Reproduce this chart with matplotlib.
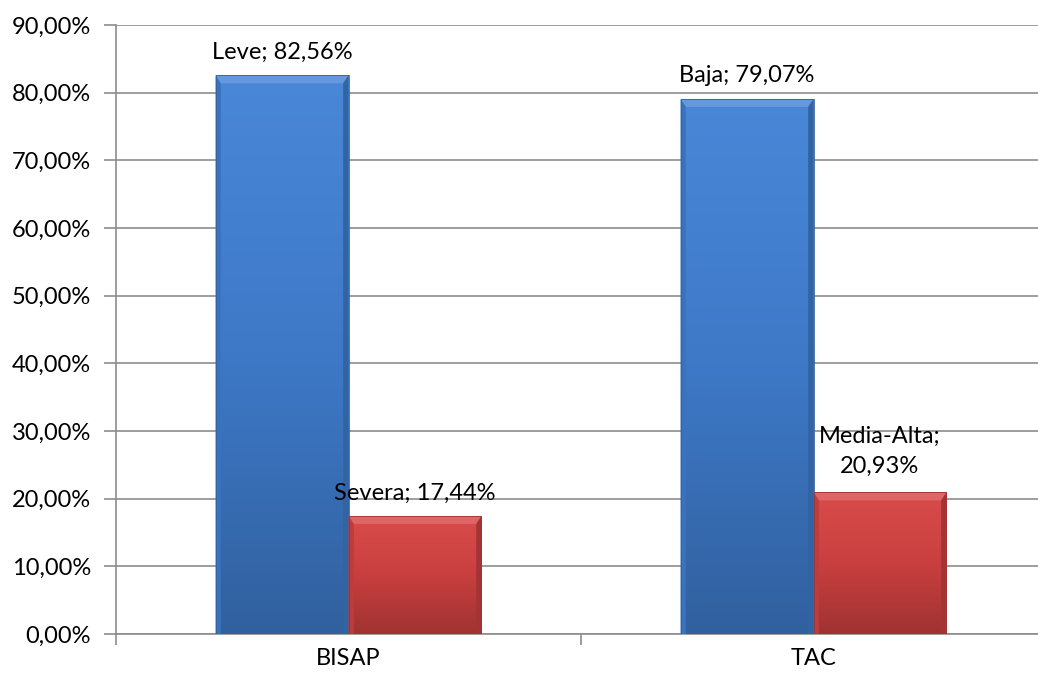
import numpy as np
import matplotlib
matplotlib.use("Agg")
import matplotlib.pyplot as plt
from matplotlib.colors import LinearSegmentedColormap, to_rgb
from matplotlib.patches import Rectangle, Polygon

plt.rcParams['font.family'] = ['Lato', 'DejaVu Sans']

categories = ["BISAP", "TAC"]
low_values = [82.56, 79.07]
high_values = [17.44, 20.93]
low_names = ["Leve", "Baja"]
high_names = ["Severa", "Media-Alta"]
y_ticks = [0, 10, 20, 30, 40, 50, 60, 70, 80, 90]

fig = plt.figure(figsize=(10.38, 6.8), dpi=100)
ax = fig.add_axes([116 / 1038, 46 / 680, 930 / 1038, 609 / 680])
ax.set_xlim(-0.5, 1.5)
ax.set_ylim(0, 90)

bar_w = 0.286
x = np.arange(len(categories))


def shade(c, f):
    r, g, b = to_rgb(c)
    if f >= 1:
        return tuple(ch + (1 - ch) * (f - 1) for ch in (r, g, b))
    return tuple(ch * f for ch in (r, g, b))


def bevel_bar(ax, xc, h, base, z=3):
    x0, x1 = xc - bar_w / 2, xc + bar_w / 2
    # vertical gradient body
    cmap = LinearSegmentedColormap.from_list(
        "g", [shade(base, 0.74), shade(base, 0.93), shade(base, 1.04)])
    grad = np.linspace(0, 1, 256).reshape(-1, 1)
    im = ax.imshow(grad, extent=(x0, x1, 0, h), origin="lower", aspect="auto",
                   cmap=cmap, zorder=z)
    clip = Rectangle((x0, 0), bar_w, h, transform=ax.transData)
    im.set_clip_path(clip)
    # bevel edges, a few pixels wide
    dx = bar_w * 0.04
    dy = 90 * 8 / 609
    top = Polygon([(x0, h), (x1, h), (x1 - dx, h - dy), (x0 + dx, h - dy)],
                  closed=True, fc=shade(base, 1.18), ec="none", zorder=z + 1)
    left = Polygon([(x0, 0), (x0, h), (x0 + dx, h - dy), (x0 + dx, 0)],
                   closed=True, fc=shade(base, 0.88), ec="none", zorder=z + 1)
    right = Polygon([(x1, 0), (x1, h), (x1 - dx, h - dy), (x1 - dx, 0)],
                    closed=True, fc=shade(base, 0.76), ec="none", zorder=z + 1)
    for p in (top, left, right):
        ax.add_patch(p)
    ax.add_patch(Rectangle((x0, 0), bar_w, h, fc="none",
                           ec=shade(base, 0.75), lw=0.6, zorder=z + 2))


blue = "#4282d6"
red = "#d84444"
for i in range(len(categories)):
    bevel_bar(ax, x[i] - bar_w / 2, low_values[i], blue)
    bevel_bar(ax, x[i] + bar_w / 2, high_values[i], red)


def fmt(v):
    return f"{v:.2f}".replace(".", ",") + "%"


fs = 17
off = (0, 9)
for i in range(len(categories)):
    ax.annotate(f"{low_names[i]}; {fmt(low_values[i])}",
                (x[i] - bar_w / 2, low_values[i]), xytext=off,
                textcoords="offset points", ha="center", va="bottom",
                fontsize=fs, color="black", zorder=10)
ax.annotate(f"{high_names[0]}; {fmt(high_values[0])}",
            (x[0] + bar_w / 2, high_values[0]), xytext=off,
            textcoords="offset points", ha="center", va="bottom",
            fontsize=fs, color="black", zorder=10)
ax.annotate(f"{high_names[1]};\n{fmt(high_values[1])}",
            (x[1] + bar_w / 2, high_values[1]), xytext=(0, 11),
            textcoords="offset points", ha="center", va="bottom",
            fontsize=fs, color="black", zorder=10, linespacing=1.55)

ax.set_yticks(y_ticks)
ax.set_yticklabels([fmt(v) for v in y_ticks], fontsize=fs)
ax.yaxis.grid(True, color="#8c8c8c", lw=1.2, zorder=0)
ax.set_axisbelow(True)

ax.set_xticks(x)
ax.set_xticklabels(categories, fontsize=fs)
ax.set_xticks([-0.5, 0.5, 1.5], minor=True)
ax.tick_params(axis="x", which="major", length=0, pad=10)
ax.tick_params(axis="x", which="minor", length=8, color="#8c8c8c", width=1.2)
ax.tick_params(axis="y", length=9, color="#8c8c8c", width=1.2, pad=9)

for s in ("top", "right"):
    ax.spines[s].set_visible(False)
for s in ("left", "bottom"):
    ax.spines[s].set_color("#8c8c8c")
    ax.spines[s].set_linewidth(1.2)

fig.savefig("out.png", dpi=100, facecolor="white")
